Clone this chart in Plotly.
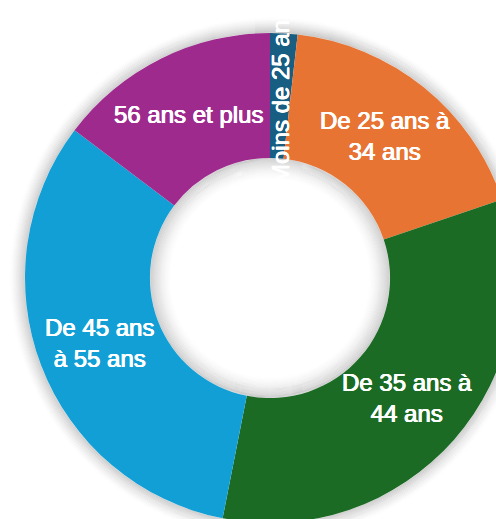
import math
import plotly.graph_objects as go

# ---- data ----
categories = ["Moins de 25 ans", "De 25 ans à 34 ans", "De 35 ans à 44 ans",
              "De 45 ans à 55 ans", "56 ans et plus"]
values = [1.8, 18.0, 33.3, 32.2, 14.7]
label_text = ["Moins de 25 ans", "De 25 ans à<br>34 ans", "De 35 ans à<br>44 ans",
              "De 45 ans<br>à 55 ans", "56 ans et plus"]
colors = ["#175E82", "#E87434", "#1B6B25", "#119FD6", "#9E2A8E"]
label_angles = [-90, 0, 0, 0, 0]

# ---- geometry (pixels) ----
W, H = 540, 556
CX, CY = 270, 278
R_OUT = 245
HOLE = 0.49
R_IN = R_OUT * HOLE

fig = go.Figure(go.Pie(
    labels=categories, values=values, sort=False, direction="clockwise",
    rotation=0, hole=HOLE,
    marker=dict(colors=colors, line=dict(width=0)),
    textinfo="none", hoverinfo="label+percent", showlegend=False,
    domain=dict(x=[(CX - R_OUT) / W, (CX + R_OUT) / W],
                y=[1 - (CY + R_OUT) / H, 1 - (CY - R_OUT) / H]),
))

# label positions computed from the data: mid-angle of each slice, middle of ring
total = sum(values)
r_mid = (R_OUT + R_IN) / 2
annotations = []
cum = 0.0
for v, txt, ang in zip(values, label_text, label_angles):
    mid = (cum + v / 2) / total * 2 * math.pi
    cum += v
    px = CX + r_mid * math.sin(mid)
    py = CY - r_mid * math.cos(mid)
    annotations.append(dict(
        x=px / W, y=1 - py / H, xref="paper", yref="paper",
        text=txt, showarrow=False, textangle=ang,
        xanchor="center", yanchor="middle", align="center",
        font=dict(family="Liberation Sans, Arial, sans-serif", size=24, color="white",
                  shadow="0.45px 0 0 #fff, -0.45px 0 0 #fff, 0 0.3px 0 #fff"),
    ))


def ring(r, alpha):
    return dict(type="circle", xref="paper", yref="paper", layer="below",
                x0=(CX - r) / W, x1=(CX + r) / W,
                y0=1 - (CY + r) / H, y1=1 - (CY - r) / H,
                fillcolor="rgba(0,0,0,0)",
                line=dict(width=1.3, color=f"rgba(0,0,0,{alpha:.3f})"))


# soft shadow around ring and inside hole
shapes = []
N_OUT = 16
for k in range(N_OUT):
    shapes.append(ring(R_OUT + k + 0.5, 0.15 * (1 - k / N_OUT) ** 1.5))
N_IN = 22
for k in range(N_IN):
    shapes.append(ring(R_IN - k - 0.5, 0.15 * (1 - k / N_IN) ** 1.6))

fig.update_layout(
    width=W, height=H, margin=dict(l=0, r=0, t=0, b=0),
    paper_bgcolor="white", plot_bgcolor="white",
    annotations=annotations, shapes=shapes,
)

fig.write_html(
    "out.html",
    config={"displayModeBar": False},
    post_script="document.body.style.margin='0';document.body.style.overflow='hidden';"
                "document.documentElement.style.overflow='hidden';",
)
